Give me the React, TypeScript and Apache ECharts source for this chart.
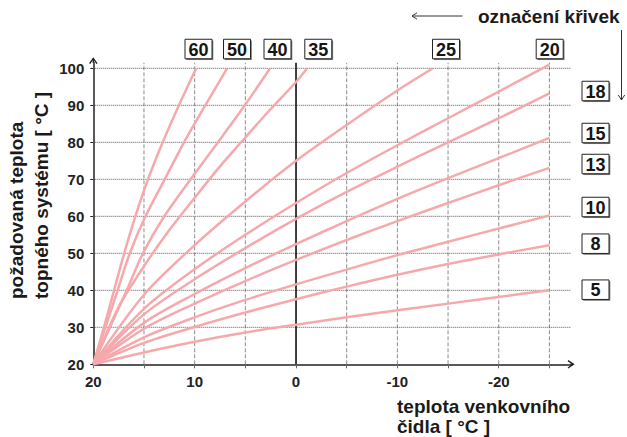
import React, { useEffect, useRef } from "react";
import * as echarts from "echarts";

// ---- axis ranges ----
const X_MIN = -27.1;
const X_MAX = 20;
const Y_MIN = 20;
const Y_MAX = 101.5;

// ---- tick labels / grid values ----
const xTickLabels = [20, 10, 0, -10, -20];
const xTickValues = [20, 15, 10, 5, 0, -5, -10, -15, -20, -25];
const xGridValues = [15, 10, 5, -5, -10, -15, -20, -25];
const yTickLabels = [20, 30, 40, 50, 60, 70, 80, 90, 100];
const yGridValues = [30, 40, 50, 60, 70, 80, 90, 100];
const zeroLine = [0];

// ---- curves: [outdoor temperature, required system temperature] ----
const curve60 = [[20, 20], [18.95, 30], [17.95, 40], [16.95, 50], [15.85, 60], [14.6, 70], [13.15, 80], [11.55, 90], [9.85, 100]];
const curve50 = [[20, 20], [18.8, 30], [17.6, 40], [16.4, 50], [14.85, 60], [12.95, 70], [11.05, 80], [8.95, 90], [6.8, 100]];
const curve40 = [[20, 20], [18.35, 30], [16.7, 40], [15.1, 50], [13.0, 60], [10.4, 70], [7.7, 80], [5.05, 90], [2.55, 100]];
const curve35 = [[20, 20], [17.5, 35.5], [15, 46.5], [12.5, 56.3], [10, 65], [7.5, 73.5], [5, 81.3], [2.5, 89], [0, 96.3], [-1.1, 100]];
const curve25 = [[20, 20], [15, 38.8], [10, 52.2], [5, 64.0], [0, 75.0], [-5, 84.7], [-10, 94.0], [-13.5, 100]];
const curve20 = [[20, 20], [15, 35], [10, 45.7], [5, 55], [0, 63.6], [-5, 71.7], [-10, 79.2], [-15, 86.5], [-20, 93.7], [-25, 101]];
const curve18 = [[20, 20], [15, 33.5], [10, 43], [5, 51.4], [0, 59.3], [-5, 66.6], [-10, 73.4], [-15, 80], [-20, 86.5], [-25, 93.2]];
const curve15 = [[20, 20], [15, 31.2], [10, 39], [5, 46], [0, 52.5], [-5, 58.7], [-10, 64.7], [-15, 70.3], [-20, 75.7], [-25, 81.2]];
const curve13 = [[20, 20], [15, 29.6], [10, 36.4], [5, 42.5], [0, 48.2], [-5, 53.6], [-10, 58.7], [-15, 63.6], [-20, 68.4], [-25, 73.1]];
const curve10 = [[20, 20], [15, 27.3], [10, 32.7], [5, 37.4], [0, 41.6], [-5, 45.6], [-10, 49.5], [-15, 53.1], [-20, 56.7], [-25, 60.2]];
const curve8 = [[20, 20], [15, 25.8], [10, 30.1], [5, 34], [0, 37.6], [-5, 41], [-10, 44.2], [-15, 47.1], [-20, 49.7], [-25, 52.2]];
const curve5 = [[20, 20], [15, 23.2], [10, 26.1], [5, 28.6], [0, 30.7], [-5, 32.7], [-10, 34.6], [-15, 36.4], [-20, 38.2], [-25, 40]];

const curveNames = ["60", "50", "40", "35", "25", "20", "18", "15", "13", "10", "8", "5"];
const curveData = [curve60, curve50, curve40, curve35, curve25, curve20, curve18, curve15, curve13, curve10, curve8, curve5];

const PINK = "#f6a9ac";
const FONT = '"Liberation Sans", Arial, Helvetica, sans-serif';

function makeBox(label: string, cx: number, cy: number) {
  const w = 27;
  const h = 19.5;
  return {
    type: "group",
    x: cx - w / 2,
    y: cy - h / 2,
    children: [
      { type: "rect", shape: { x: 1.3, y: 1.3, width: w, height: h }, style: { fill: "#777" } },
      { type: "rect", shape: { x: 0, y: 0, width: w, height: h }, style: { fill: "#fff", stroke: "#222", lineWidth: 1 } },
      {
        type: "text",
        x: w / 2,
        y: h / 2 + 0.5,
        style: { text: label, fill: "#151515", fontSize: 18, fontWeight: "bold", fontFamily: FONT, align: "center", verticalAlign: "middle" },
      },
    ],
  };
}

function titleText(text: string, x: number, y: number, rotation = 0) {
  return {
    type: "text",
    x,
    y,
    rotation,
    style: { text, fill: "#1a1a1a", fontSize: 19, fontWeight: "bold", fontFamily: FONT, align: "left", verticalAlign: "middle" },
  };
}

function stroke(points: number[][], color = "#333", width = 1) {
  return { type: "polyline", silent: true, shape: { points }, style: { stroke: color, lineWidth: width, fill: "none" } };
}

export default function App() {
  const ref = useRef<HTMLDivElement>(null);

  useEffect(() => {
    if (!ref.current) return;
    const chart = echarts.init(ref.current, null, { renderer: "svg", width: 627, height: 437 });

    const labelStyle = { fontSize: 15, fontWeight: "bold", color: "#222", fontFamily: FONT };

    const curveSeries = curveNames.map((name, i) => ({
      type: "line",
      name,
      data: curveData[i],
      symbol: "none",
      showSymbol: false,
      smooth: 0.3,
      silent: true,
      z: 4,
      lineStyle: { color: PINK, width: 2.5 },
    }));

    const option = {
      animation: false,
      backgroundColor: "#ffffff",
      grid: { left: 93.3, right: 56.3, top: 62.75, bottom: 72.7, outerBoundsMode: "none" },
      xAxis: {
        type: "value",
        inverse: true,
        min: X_MIN,
        max: X_MAX,
        axisLine: { show: true, onZero: false, lineStyle: { color: "#222", width: 1.5 } },
        axisTick: { show: true, customValues: xTickValues, length: 4, lineStyle: { color: "#666" } },
        axisLabel: { customValues: xTickLabels, margin: 10, ...labelStyle },
        splitLine: { show: false },
      },
      yAxis: {
        type: "value",
        min: Y_MIN,
        max: Y_MAX,
        axisLine: { show: true, onZero: false, lineStyle: { color: "#222", width: 1.5 } },
        axisTick: { show: true, customValues: yTickLabels, length: 3, lineStyle: { color: "#222" } },
        axisLabel: { customValues: yTickLabels, margin: 9, ...labelStyle },
        splitLine: { show: false },
      },
      series: [
        {
          type: "custom",
          silent: true,
          z: 1,
          data: xGridValues.map((v) => [v, Y_MIN]),
          renderItem: (_p: any, api: any) => {
            const x = api.value(0);
            const a = api.coord([x, Y_MIN]);
            const b = api.coord([x, Y_MAX]);
            return {
              type: "line",
              shape: { x1: a[0], y1: a[1], x2: b[0], y2: b[1] },
              style: { stroke: "#8c8c8c", lineWidth: 1, lineDash: [4, 2] },
            };
          },
        },
        {
          type: "custom",
          silent: true,
          z: 1,
          data: yGridValues.map((v) => [X_MAX, v]),
          renderItem: (_p: any, api: any) => {
            const y = api.value(1);
            const a = api.coord([X_MAX, y]);
            const b = api.coord([X_MIN, y]);
            return {
              type: "line",
              shape: { x1: a[0], y1: a[1], x2: b[0], y2: b[1] },
              style: { stroke: "#555", lineWidth: 1, lineDash: [1, 1] },
            };
          },
        },
        {
          type: "custom",
          silent: true,
          z: 2,
          data: zeroLine.map((v) => [v, Y_MIN]),
          renderItem: (_p: any, api: any) => {
            const x = api.value(0);
            const a = api.coord([x, Y_MIN]);
            const b = api.coord([x, Y_MAX]);
            return {
              type: "line",
              shape: { x1: a[0], y1: a[1], x2: b[0], y2: b[1] },
              style: { stroke: "#111", lineWidth: 1.6 },
            };
          },
        },
        ...curveSeries,
      ],
      graphic: [
        // top labels
        makeBox("60", 198.5, 49),
        makeBox("50", 237, 49),
        makeBox("40", 277.5, 49),
        makeBox("35", 318.3, 49),
        makeBox("25", 446, 49),
        makeBox("20", 549.7, 49),
        // right labels
        makeBox("18", 595.5, 91),
        makeBox("15", 595.5, 133),
        makeBox("13", 595.5, 164),
        makeBox("10", 595.5, 207),
        makeBox("8", 595.5, 243.7),
        makeBox("5", 595.5, 289.7),
        // titles
        titleText("označení křivek", 478, 16.4),
        titleText("teplota venkovního", 397, 406.4),
        titleText("čidla [ °C ]", 397, 426.4),
        titleText("požadovaná teplota", 16, 299, Math.PI / 2),
        titleText("topného systému [ °C ]", 41, 299, Math.PI / 2),
        // axis arrow heads
        stroke([[93.3, 62.8], [93.3, 58.6]], "#222", 1.5),
        stroke([[89.6, 63.6], [93.3, 58.4], [97, 63.6]], "#222", 1.4),
        stroke([[570.5, 364.3], [573.2, 364.3]], "#222", 1.5),
        stroke([[568, 360.6], [573.4, 364.3], [568, 368]], "#222", 1.4),
        // legend arrows
        stroke([[462.5, 16], [412, 16]]),
        stroke([[417, 12.8], [412, 16], [417, 19.2]]),
        stroke([[621.5, 30], [621.5, 100]]),
        stroke([[618.3, 95], [621.5, 100], [624.7, 95]]),
      ],
    };

    chart.setOption(option as any);
    return () => chart.dispose();
  }, []);

  return <div ref={ref} style={{ position: "fixed", left: 0, top: 0, width: 627, height: 437, background: "#fff" }} />;
}
